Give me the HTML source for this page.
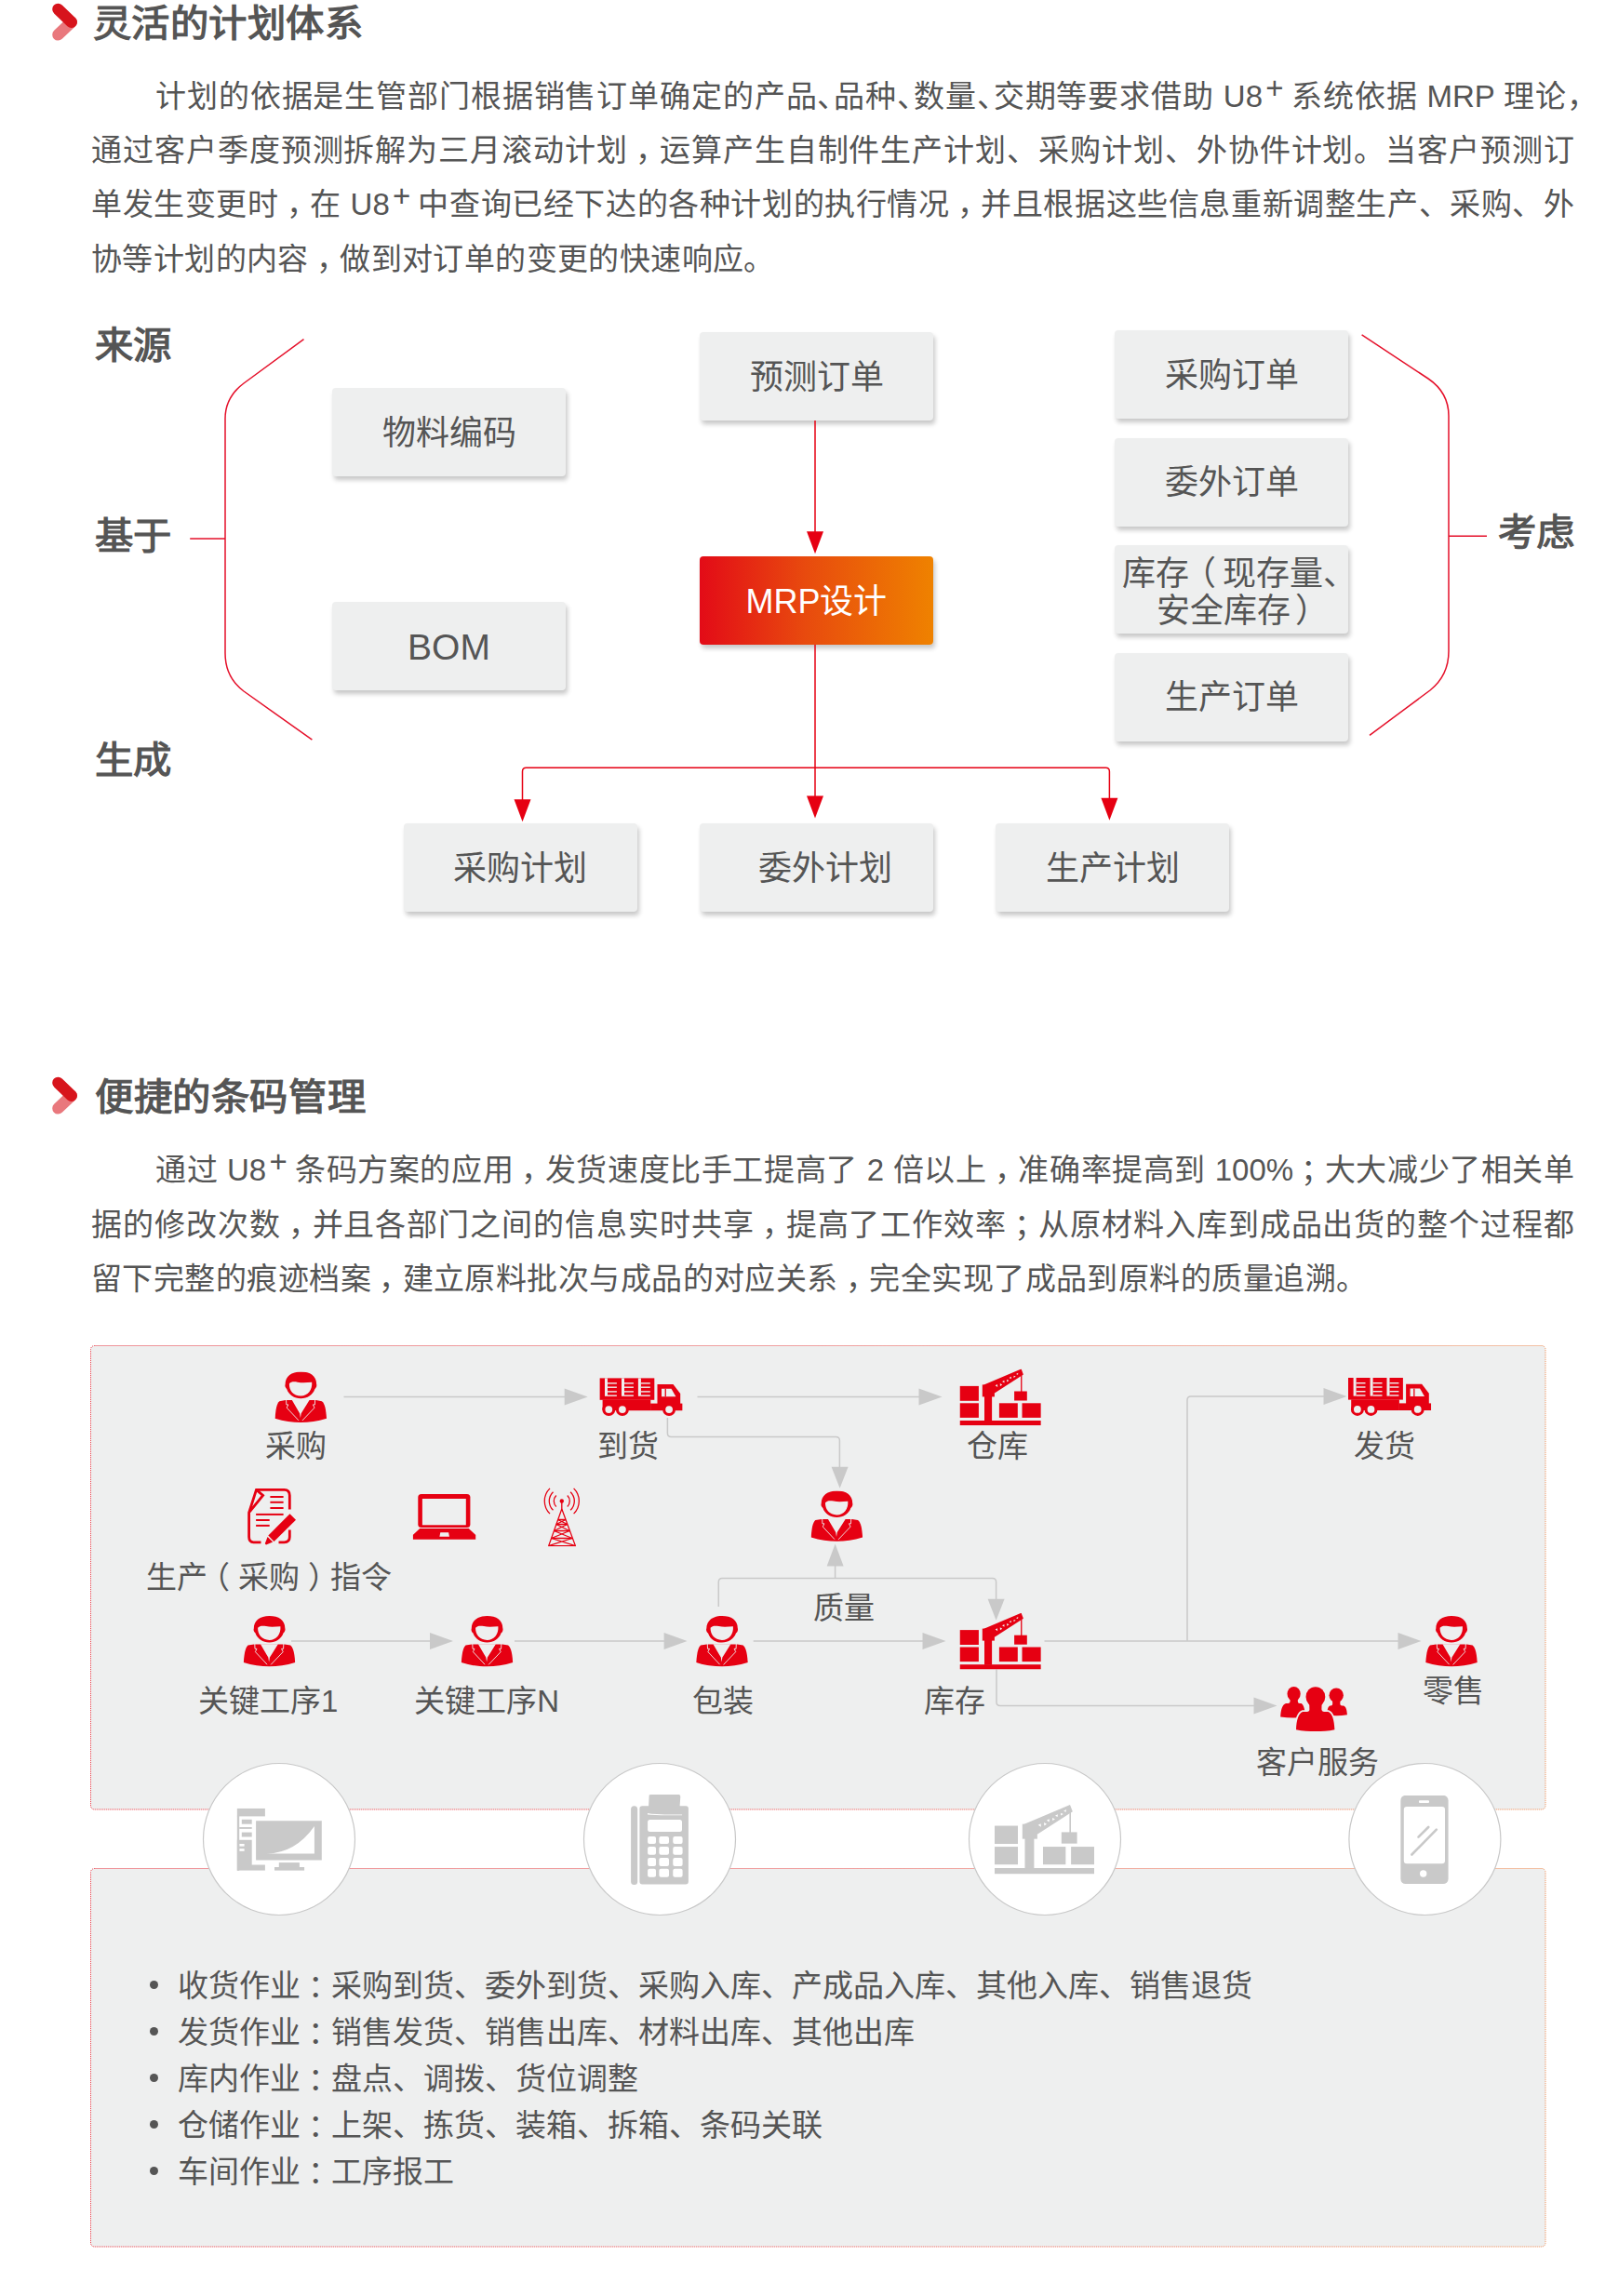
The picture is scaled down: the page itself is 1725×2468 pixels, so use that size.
<!DOCTYPE html>
<html lang="zh-CN"><head><meta charset="utf-8"><title>U8+</title>
<style>
html,body{margin:0;padding:0;background:#fff}
body{width:1725px;height:2468px;position:relative;overflow:hidden;font-family:"Liberation Sans",sans-serif;color:#555}
.t{position:absolute;white-space:nowrap;line-height:1;text-align:center}
.pl{position:absolute;left:98px;width:1594px;font-size:33px;line-height:1;white-space:nowrap;text-align:justify;text-align-last:justify}
sup{font-size:1em;vertical-align:0;position:relative;top:-0.27em;line-height:0;margin-left:0.1em;margin-right:-0.05em}
.box{position:absolute;width:251px;height:95px;background:#eeefef;border-radius:4px;box-shadow:2px 4px 5px rgba(0,0,0,0.22);display:flex;align-items:center;justify-content:center;font-size:36px;line-height:1;color:#555;white-space:nowrap}
.box span{position:relative;top:1px}
.halt{font-feature-settings:"halt"}
.pc{position:relative;left:0.25em}
.pl2{position:relative;left:-0.27em}
.pr2{position:relative;left:0.27em}
svg{position:absolute;left:0;top:0;overflow:visible}
</style></head><body>
<div id="pg" style="position:absolute;left:0;top:0;width:1725px;height:2468px;opacity:0.999">
<svg width="30" height="44" style="left:54px;top:2px" viewBox="54 2 30 44">
<line x1="62.45" y1="37.35" x2="76.75" y2="23.7" stroke="#e9787d" stroke-width="12.5" stroke-linecap="round"/>
<line x1="62.45" y1="9.95" x2="76.75" y2="23.7" stroke="#d7141c" stroke-width="12.5" stroke-linecap="round"/>
</svg>
<div class="t" style="left:99.5px;top:6.1px;text-align:left;font-size:41.4px;font-weight:bold;transform:scaleY(0.95);transform-origin:0 47%;color:#555;letter-spacing:0.6px;">灵活的计划体系</div>
<div class="pl" style="top:87.0px;width:1603px;"><span style="padding-left:69px"></span>计划的依据是生管部门根据销售订单确定的产品<span class="halt">、</span>品种<span class="halt">、</span>数量<span class="halt">、</span>交期等要求借助 U8<sup>+</sup> 系统依据 MRP 理论<span class="halt">，</span></div>
<div class="pl" style="top:145.0px;">通过客户季度预测拆解为三月滚动计划<span class="pc">，</span>运算产生自制件生产计划、采购计划、外协件计划。当客户预测订</div>
<div class="pl" style="top:203.2px;">单发生变更时<span class="pc">，</span>在 U8<sup>+</sup> 中查询已经下达的各种计划的执行情况<span class="pc">，</span>并且根据这些信息重新调整生产、采购、外</div>
<div class="pl" style="top:262.0px;text-align-last:left;letter-spacing:0.4px;">协等计划的内容<span class="pc">，</span>做到对订单的变更的快速响应。</div>
<div class="box" style="left:357px;top:417px;"><span>物料编码</span></div>
<div class="box" style="left:357px;top:647px;"><span><span style="font-size:39px;top:0">BOM</span></span></div>
<div class="box" style="left:752px;top:357px;"><span>预测订单</span></div>
<div class="box" style="left:1198px;top:355px;"><span>采购订单</span></div>
<div class="box" style="left:1198px;top:470.5px;"><span>委外订单</span></div>
<div class="box" style="left:1198px;top:701.5px;"><span>生产订单</span></div>
<div class="box" style="left:433.5px;top:885px;"><span>采购计划</span></div>
<div class="box" style="left:752px;top:885px;padding-left:18px;box-sizing:border-box;"><span>委外计划</span></div>
<div class="box" style="left:1070px;top:885px;"><span>生产计划</span></div>
<div class="box" style="left:1198px;top:586px"></div>
<div class="t" style="left:1206.0px;top:599.0px;text-align:left;font-size:36px;color:#555;">库存<span style="position:relative;left:-7px">（</span>现存量、</div>
<div class="t" style="left:1243.0px;top:639.0px;text-align:left;font-size:36px;color:#555;">安全库存<span style="position:relative;left:5px">）</span></div>
<div class="box" style="left:752px;top:598px;background:linear-gradient(90deg,#e30b17 0%,#e84a0e 45%,#ef8200 100%);color:#fff"><span>MRP设计</span></div>
<div class="t" style="left:102.0px;top:352.3px;text-align:left;font-size:41.4px;font-weight:bold;transform:scaleY(0.95);transform-origin:0 47%;color:#555;">来源</div>
<div class="t" style="left:102.0px;top:557.1px;text-align:left;font-size:41.4px;font-weight:bold;transform:scaleY(0.95);transform-origin:0 47%;color:#555;">基于</div>
<div class="t" style="left:102.0px;top:797.5px;text-align:left;font-size:41.4px;font-weight:bold;transform:scaleY(0.95);transform-origin:0 47%;color:#555;">生成</div>
<div class="t" style="left:1610.0px;top:552.7px;text-align:left;font-size:41.4px;font-weight:bold;transform:scaleY(0.95);transform-origin:0 47%;color:#555;">考虑</div>
<svg width="1725" height="1000" viewBox="0 0 1725 1000"><g fill="none" stroke="#e5102a" stroke-width="1.5"><path d="M326.5,364.6 L262,412 Q242,427 242,450 L242,702 Q242,728 262,743 L335.4,795.2"/><path d="M204.2,579 H242"/><path d="M1463.6,359.9 L1535,407 Q1557,422 1557,447 L1557,700 Q1557,726 1537,742 L1472,790.4"/><path d="M1557,576.2 H1598"/></g><g fill="none" stroke="#e60012" stroke-width="1.5"><path d="M876,452 V575"/><path d="M876,693 V860"/><path d="M561.5,862 V829.2 Q561.5,825.2 565.5,825.2 H1188.4 Q1192.4,825.2 1192.4,829.2 V860"/></g><path d="M867.0,571.3 L885.0,571.3 L876,595.3 Z" fill="#e60012"/><path d="M867.0,855.4 L885.0,855.4 L876,879.4 Z" fill="#e60012"/><path d="M552.5,859.2 L570.5,859.2 L561.5,883.2 Z" fill="#e60012"/><path d="M1183.4,857.7 L1201.4,857.7 L1192.4,881.7 Z" fill="#e60012"/></svg>
<svg width="30" height="44" style="left:54px;top:1156.3px" viewBox="54 1156.3 30 44">
<line x1="62.45" y1="1191.6499999999999" x2="76.75" y2="1178.0" stroke="#e9787d" stroke-width="12.5" stroke-linecap="round"/>
<line x1="62.45" y1="1164.25" x2="76.75" y2="1178.0" stroke="#d7141c" stroke-width="12.5" stroke-linecap="round"/>
</svg>
<div class="t" style="left:102.0px;top:1160.4px;text-align:left;font-size:41.4px;font-weight:bold;transform:scaleY(0.95);transform-origin:0 47%;color:#555;letter-spacing:0.6px;">便捷的条码管理</div>
<div class="pl" style="top:1240.9px;"><span style="padding-left:69px"></span>通过 U8<sup>+</sup> 条码方案的应用<span class="pc">，</span>发货速度比手工提高了 2 倍以上<span class="pc">，</span>准确率提高到 100%<span class="pc">；</span>大大减少了相关单</div>
<div class="pl" style="top:1299.6px;">据的修改次数<span class="pc">，</span>并且各部门之间的信息实时共享<span class="pc">，</span>提高了工作效率<span class="pc">；</span>从原材料入库到成品出货的整个过程都</div>
<div class="pl" style="top:1358.3px;text-align-last:left;letter-spacing:0.45px;">留下完整的痕迹档案<span class="pc">，</span>建立原料批次与成品的对应关系<span class="pc">，</span>完全实现了成品到原料的质量追溯。</div>
<svg width="1725" height="2468" viewBox="0 0 1725 2468"><defs><linearGradient id="bg1" x1="0" x2="1" y1="0" y2="0"><stop offset="0" stop-color="#e8303c"/><stop offset="0.5" stop-color="#ea4a4a"/><stop offset="1" stop-color="#f08a50"/></linearGradient></defs><rect x="97.5" y="1446.5" width="1563.5" height="498.5" rx="4" fill="#eeefef" stroke="url(#bg1)" stroke-width="1" stroke-dasharray="1 1"/><rect x="97.5" y="2008.5" width="1563.5" height="406.5" rx="4" fill="#eeefef" stroke="url(#bg1)" stroke-width="1" stroke-dasharray="1 1"/><circle cx="300" cy="1977" r="81.5" fill="#fff" stroke="#c8c8c8" stroke-width="1.2"/><circle cx="709" cy="1977" r="81.5" fill="#fff" stroke="#c8c8c8" stroke-width="1.2"/><circle cx="1123" cy="1977" r="81.5" fill="#fff" stroke="#c8c8c8" stroke-width="1.2"/><circle cx="1531.4" cy="1977" r="81.5" fill="#fff" stroke="#c8c8c8" stroke-width="1.2"/></svg>
<svg width="1725" height="2468" viewBox="0 0 1725 2468"><defs>
<symbol id="person" viewBox="0 0 56 55">
<path fill="#e60012" d="M11.3,13.5 C11.3,5 18,0 28,0 C38,0 44.8,4.5 44.8,13 C45.4,14.8 44.9,17 43,18.6 C41,24.6 35,28.6 28,28.6 C21,28.6 15,24.6 13,18.6 C11.2,17 10.7,15 11.3,13.5 Z"/>
<path fill="#eeefef" d="M15.6,12.8 C17.5,10.3 21,10.4 24.5,11.1 C29,12 34.5,11.6 39.9,11.2 C40.6,19.6 35.6,25.9 28,25.9 C20,25.9 15.3,19.8 15.6,12.8 Z"/>
<path fill="#e60012" d="M5,31.6 L11.6,30.4 L44.4,30.4 L50.6,31.6 C53.8,34 55,40 55.7,50.1 C46,53.3 37,54.3 28,54.3 C19,54.3 10,53.3 0.3,50.1 C1,40 2.2,34 5,31.6 Z"/>
<path fill="#eeefef" d="M18.4,30.2 L37.4,30.2 L28.4,44.6 L27.6,49.6 L26.8,44.6 Z"/>
<g fill="none" stroke="#eeefef" stroke-width="0.9">
<path d="M12.3,30 L12.5,35.3 L14.5,35.3 L12.9,38.6 L25.6,52.2"/>
<path d="M43.3,30 L43.1,35.3 L41.1,35.3 L42.7,38.6 L29.6,52.4"/>
</g>
</symbol>
<symbol id="truck" viewBox="0 0 89.2 41">
<g fill="#e60012">
<rect x="0" y="0" width="58.9" height="23.6"/>
<rect x="3.2" y="23.4" width="51.7" height="11.6"/>
<rect x="54.7" y="27.4" width="34.5" height="7.6"/>
<path d="M62.1,6.7 L79.1,6.7 L86.8,16.8 L86.8,28 L62.1,28 Z"/>
<circle cx="9.9" cy="33.9" r="7"/><circle cx="24.5" cy="33.9" r="7"/><circle cx="74.7" cy="33.9" r="7"/>
</g>
<g fill="#eeefef">
<rect x="5.6" y="0" width="3" height="19.6"/><rect x="23.6" y="0" width="3" height="19.6"/><rect x="41.5" y="0" width="3" height="19.6"/>
<rect x="8.6" y="5" width="9.9" height="1.4"/><rect x="8.6" y="9.3" width="9.9" height="1.4"/><rect x="8.6" y="14" width="9.9" height="1.4"/><rect x="8.6" y="18.3" width="9.9" height="1.4"/>
<rect x="26.6" y="5" width="9.9" height="1.4"/><rect x="26.6" y="9.3" width="9.9" height="1.4"/><rect x="26.6" y="14" width="9.9" height="1.4"/><rect x="26.6" y="18.3" width="9.9" height="1.4"/>
<rect x="44.5" y="5" width="9.9" height="1.4"/><rect x="44.5" y="9.3" width="9.9" height="1.4"/><rect x="44.5" y="14" width="9.9" height="1.4"/><rect x="44.5" y="18.3" width="9.9" height="1.4"/>
<path d="M66.6,11.6 L77.1,11.6 L82,20.1 L66.6,20.1 Z"/>
<circle cx="9.9" cy="33.9" r="3.9"/><circle cx="24.5" cy="33.9" r="3.9"/><circle cx="74.7" cy="33.9" r="3.9"/>
</g>
<rect x="70.2" y="11.6" width="1.3" height="8.5" fill="#e60012"/>
</symbol>
<symbol id="crane" viewBox="0 0 87.3 60.8">
<rect x="0" y="55.5" width="87.3" height="5.3"/>
<rect x="0" y="18.4" width="20.4" height="15.9"/>
<rect x="0" y="36.8" width="20.4" height="15.6"/>
<rect x="26.5" y="29" width="8.1" height="27"/>
<rect x="24.3" y="16.9" width="13.1" height="13"/>
<path d="M26,17 L66.1,0 L68.4,6 L37.4,26 Z"/>
<rect x="65.6" y="5" width="1.3" height="19.5"/>
<rect x="58.6" y="24" width="13.7" height="10"/>
<rect x="42.4" y="36.8" width="19.9" height="15.6"/>
<rect x="67" y="36.8" width="20.3" height="15.6"/>
<g style="fill:var(--hole,#eeefef)" class="lat"><path d="M38.14,17.72 L40.46,16.47 L40.69,19.48 Z"/><path d="M43.47,18.43 L45.70,17.02 L43.29,15.50 Z"/><path d="M45.59,13.62 L47.91,12.37 L47.96,15.07 Z"/><path d="M50.71,13.95 L52.94,12.55 L50.71,11.34 Z"/><path d="M53.04,9.53 L55.37,8.28 L55.23,10.65 Z"/><path d="M57.94,9.48 L60.17,8.07 L58.12,7.18 Z"/><path d="M60.50,5.43 L62.82,4.18 L62.50,6.24 Z"/></g>
</symbol>
<symbol id="group" viewBox="0 0 72 49">
<g fill="#e60012">
<ellipse cx="14.6" cy="8.7" rx="7.1" ry="7.8"/>
<path d="M10.4,12 L10.6,16.8 Q10.6,19 8.2,19 L6,19 C2,20.3 0.6,26 0.2,33.4 C9,34.9 18,34.9 27,33.6 C26.7,26 25.2,20.3 22.6,19 L20.8,19 Q18.8,19 18.8,16.8 L19,12 Z"/>
<ellipse cx="60.2" cy="10.2" rx="7.7" ry="7.8"/>
<path d="M56,14 L56.2,19.6 Q56.2,21.6 54.2,21.6 L53.4,21.6 C51.2,22.6 50.4,26 50.1,31.5 C57,32.6 64.5,32.6 71.9,31.3 C71.6,26 70.6,22.6 68,21.6 L66.3,21.6 Q64.3,21.6 64.3,19.6 L64.5,14 Z"/>
</g>
<g fill="#eeefef" stroke="#eeefef" stroke-width="3.6" stroke-linejoin="round">
<ellipse cx="37.9" cy="12" rx="10.4" ry="10.8"/>
<path d="M31.2,18 L31.4,25.6 Q31.4,28 28.8,28 L24.2,28 C19.6,29.6 17.4,37 17,47.2 C24,48.7 31,49 37.9,49 C44.8,49 51.7,48.7 58.4,47.2 C58,37 55.9,29.6 51.4,28 L46.9,28 Q44.4,28 44.4,25.6 L44.6,18 Z"/>
</g>
<g fill="#e60012">
<ellipse cx="37.9" cy="12" rx="10.4" ry="10.8"/>
<path d="M31.2,18 L31.4,25.6 Q31.4,28 28.8,28 L24.2,28 C19.6,29.6 17.4,37 17,47.2 C24,48.7 31,49 37.9,49 C44.8,49 51.7,48.7 58.4,47.2 C58,37 55.9,29.6 51.4,28 L46.9,28 Q44.4,28 44.4,25.6 L44.6,18 Z"/>
</g>
</symbol>
<symbol id="doc" viewBox="0 0 60 66">
<g fill="none" stroke="#e60012" stroke-width="2.8">
<path d="M20.5,62.8 L12.5,62.8 Q7.6,62.8 7.6,57 L7.6,31 L15.5,6.4 L45.5,6.4 Q51.3,6.4 51.3,12.5 L51.3,27.5"/>
<path d="M51.3,49.5 L51.3,57 Q51.3,62.8 45.5,62.8 L39.5,62.8"/>
<path d="M15.8,6.6 L22.6,12.4 L8.4,29.8"/>
</g>
<g fill="#e60012">
<rect x="30.4" y="13" width="14.2" height="2"/><rect x="30.4" y="18.8" width="14.2" height="2"/><rect x="30.4" y="25" width="14.2" height="2"/>
<rect x="15.1" y="31.9" width="29.5" height="2"/><rect x="15.1" y="38" width="14.6" height="2"/><rect x="15.1" y="43.9" width="14.6" height="2"/>
<path d="M51.5,32.3 L58,38.8 L34.5,61.9 L28.3,55.4 Z"/>
<path d="M27.6,57 L33.2,62.6 L26,65.6 L24.8,64.3 Z"/>
</g>
</symbol>
<symbol id="laptop" viewBox="0 0 68 49">
<rect x="5.6" y="0" width="56.1" height="36.1" rx="3.5" fill="#e60012"/>
<rect x="10.2" y="5" width="46.9" height="28.3" fill="#eeefef"/>
<path d="M7.5,37 L60,37 L67.6,44 L67.6,48.8 L0,48.8 L0,44 Z" fill="#e60012"/>
<path d="M29.6,41.3 L38.4,41.3 L39.3,45.7 L28.7,45.7 Z" fill="#eeefef"/>
</symbol>
<symbol id="tower" viewBox="0 0 44 64">
<g fill="none" stroke="#e60012" stroke-width="1.3">
<path d="M21.8,15 L21.8,23.8"/>
<path d="M21.8,23.5 L7.6,63.4 M21.8,23.5 L36.5,63.4 M7.2,63.2 L37,63.2"/>
<path d="M17.6,35 L26,35 M15.8,40 L27.8,40 M13.4,47 L30.2,47 M10.6,55 L33,55"/>
<path d="M17.6,35 L27.8,40 M26,35 L15.8,40 M15.8,40 L30.2,47 M27.8,40 L13.4,47 M13.4,47 L33,55 M30.2,47 L10.6,55 M10.6,55 L36.5,63.2 M33,55 L7.6,63.2"/>
<path d="M15.8,9 A8.5,8.5 0 0 0 15.8,21 M27.8,9 A8.5,8.5 0 0 1 27.8,21"/>
<path d="M12.5,5.2 A13.5,13.5 0 0 0 12.5,24.8 M31.1,5.2 A13.5,13.5 0 0 1 31.1,24.8"/>
<path d="M9,1.4 A19,19 0 0 0 9,28.6 M34.6,1.4 A19,19 0 0 1 34.6,28.6"/>
</g>
<circle cx="21.8" cy="15" r="2.2" fill="#e60012"/>
</symbol>
<symbol id="pc" viewBox="0 0 92 67">
<g fill="#c9c9c9">
<rect x="0" y="0" width="30.3" height="8.6"/>
<rect x="0" y="8" width="2.6" height="60"/>
<rect x="5.2" y="12" width="10.9" height="4.9"/>
<rect x="2.6" y="20.2" width="13.5" height="1.9"/>
<rect x="5.2" y="25.8" width="10.9" height="4.9"/>
<path d="M0,34 L16.1,34 L16.1,60.6 L30.3,60.6 L30.3,67 L0,67 Z"/>
<path d="M20.5,13.5 L91.2,13.5 L91.2,55.7 L20.5,55.7 Z M32,48.6 Q63,48 83.3,19.1 L83.3,48.6 Z" fill-rule="evenodd"/>
<rect x="45.2" y="58.3" width="22.1" height="4.9"/>
<rect x="40.4" y="63.2" width="32.1" height="3.8"/>
</g>
<g fill="#fff"><rect x="2.8" y="38.2" width="5.2" height="2.6"/><rect x="2.8" y="43.4" width="5.2" height="2.6"/></g>
</symbol>
<symbol id="pos" viewBox="0 0 62 97">
<g fill="#c9c9c9">
<rect x="0" y="12.2" width="7.1" height="84.7" rx="3.5"/>
<path d="M19.6,0.5 Q19.8,0 22,0 L51.5,0 Q53.5,0 53.2,2.5 L52.5,12.2 L59,12.2 Q61.8,12.2 61.8,15 L61.8,93.6 Q61.8,96.6 58.8,96.6 L12.3,96.6 Q9.3,96.6 9.3,93.6 L9.3,15 Q9.3,12.2 12.3,12.2 L19,12.2 Z"/>
</g>
<g fill="#fff">
<path d="M17.9,20 Q26,21.8 55,21.4 L55,22.2 Q26,22.6 17.9,21.6 Z"/>
<rect x="18" y="27" width="36.9" height="12.9" rx="2.5"/>
<rect x="18" y="44.9" width="8.9" height="8.1" rx="2"/><rect x="30.3" y="44.9" width="10.6" height="8.1" rx="2"/><rect x="45.2" y="44.9" width="10.3" height="8.1" rx="2"/>
<rect x="18" y="56.1" width="8.9" height="8.7" rx="2"/><rect x="30.3" y="56.1" width="10.6" height="8.7" rx="2"/><rect x="45.2" y="56.1" width="10.3" height="8.7" rx="2"/>
<rect x="18" y="67.9" width="8.9" height="9.1" rx="2"/><rect x="30.3" y="67.9" width="10.6" height="9.1" rx="2"/><rect x="45.2" y="67.9" width="10.3" height="9.1" rx="2"/>
<rect x="18" y="79.8" width="8.9" height="9" rx="2"/><rect x="30.3" y="79.8" width="10.6" height="9" rx="2"/><rect x="45.2" y="79.8" width="10.3" height="9" rx="2"/>
</g>
</symbol>
<symbol id="phone" viewBox="0 0 52 96">
<rect x="0" y="0" width="51.4" height="95.1" rx="5.5" fill="#c9c9c9"/>
<rect x="3.6" y="12" width="44.2" height="61.4" rx="3.2" fill="#fff"/>
<rect x="19.8" y="5.3" width="11" height="2.8" rx="1" fill="#fff"/>
<circle cx="24.5" cy="84.1" r="3.7" fill="#fff"/>
<g stroke="#c9c9c9" stroke-width="2.6" stroke-linecap="round"><path d="M19.3,44.8 L30,34.1"/><path d="M12.2,63.6 L38.6,36.7"/></g>
</symbol>
</defs><g fill="none" stroke="#c9c9c9" stroke-width="1.5"><path d="M369.5,1501.5 H608"/><path d="M749.5,1501.5 H990"/><path d="M717.4,1524 V1540.4 Q717.4,1544.4 721.4,1544.4 H898.4 Q902.4,1544.4 902.4,1548.4 V1578"/><path d="M772.3,1727 V1700.4 Q772.3,1696.4 776.3,1696.4 H1066.6 Q1070.6,1696.4 1070.6,1700.4 V1719"/><path d="M897.6,1696.4 V1682"/><path d="M313,1764 H463"/><path d="M553,1764 H715"/><path d="M809.7,1764 H993"/><path d="M1122.5,1764 H1503"/><path d="M1276,1764 V1505 Q1276,1501 1280,1501 H1425"/><path d="M1071,1794.5 V1829.5 Q1071,1833.5 1075,1833.5 H1350"/></g><path d="M606.7,1492.5 L631.7,1501.5 L606.7,1510.5 Z" fill="#c9c9c9"/><path d="M987.5,1492.5 L1012.5,1501.5 L987.5,1510.5 Z" fill="#c9c9c9"/><path d="M893.6,1576.8 L911.6,1576.8 L902.6,1599.8 Z" fill="#c9c9c9"/><path d="M888.6,1683.6 L906.6,1683.6 L897.6,1659.6 Z" fill="#c9c9c9"/><path d="M1061.6,1718.8 L1079.6,1718.8 L1070.6,1741.8 Z" fill="#c9c9c9"/><path d="M462,1755.0 L487,1764 L462,1773.0 Z" fill="#c9c9c9"/><path d="M713.6,1755.0 L738.6,1764 L713.6,1773.0 Z" fill="#c9c9c9"/><path d="M991.5,1755.0 L1016.5,1764 L991.5,1773.0 Z" fill="#c9c9c9"/><path d="M1502.5,1755.0 L1527.5,1764 L1502.5,1773.0 Z" fill="#c9c9c9"/><path d="M1422.5,1492.0 L1447.5,1501 L1422.5,1510.0 Z" fill="#c9c9c9"/><path d="M1347.5,1824.5 L1372.5,1833.5 L1347.5,1842.5 Z" fill="#c9c9c9"/><use href="#person" x="295.3" y="1474.6" width="56" height="55"/><use href="#person" x="261.5" y="1737" width="56" height="55"/><use href="#person" x="495.5" y="1737" width="56" height="55"/><use href="#person" x="748" y="1737" width="56" height="55"/><use href="#person" x="871.4" y="1602.5" width="56" height="55"/><use href="#person" x="1532" y="1737" width="56" height="55"/><use href="#truck" x="644.4" y="1481.2" width="89.2" height="41"/><use href="#truck" x="1449" y="1481" width="89.2" height="41"/><use href="#crane" x="1031.5" y="1471.5" width="87.3" height="60.8" fill="#e60012"/><use href="#crane" x="1031.5" y="1733.7" width="87.3" height="60.8" fill="#e60012"/><use href="#group" x="1376" y="1812" width="72" height="49"/><use href="#doc" x="260" y="1595" width="60" height="66"/><use href="#laptop" x="443.7" y="1606" width="68" height="49"/><use href="#tower" x="582" y="1598.5" width="44" height="64"/><use href="#pc" x="254.6" y="1943.8" width="92" height="67"/><use href="#pos" x="678.1" y="1929" width="62" height="97"/><use href="#crane" x="1069" y="1940" width="107" height="74.5" fill="#c9c9c9" style="--hole:#fff"/><use href="#phone" x="1505.2" y="1929.9" width="52" height="96"/></svg>
<div class="t" style="left:18.4px;top:1538.1px;width:600px;font-size:33px;color:#555;">采购</div>
<div class="t" style="left:374.5px;top:1537.8px;width:600px;font-size:33px;color:#555;">到货</div>
<div class="t" style="left:772.0px;top:1538.1px;width:600px;font-size:33px;color:#555;">仓库</div>
<div class="t" style="left:1188.0px;top:1538.1px;width:600px;font-size:33px;color:#555;">发货</div>
<div class="t" style="left:-11.2px;top:1679.1px;width:600px;font-size:33px;color:#555;">生产<span class="pl2">（</span>采购<span class="pr2">）</span>指令</div>
<div class="t" style="left:606.9px;top:1711.5px;width:600px;font-size:33px;color:#555;">质量</div>
<div class="t" style="left:-11.8px;top:1811.6px;width:600px;font-size:33px;color:#555;">关键工序1</div>
<div class="t" style="left:223.2px;top:1811.6px;width:600px;font-size:33px;color:#555;">关键工序N</div>
<div class="t" style="left:476.5px;top:1811.6px;width:600px;font-size:33px;color:#555;">包装</div>
<div class="t" style="left:725.5px;top:1811.6px;width:600px;font-size:33px;color:#555;">库存</div>
<div class="t" style="left:1262.0px;top:1800.6px;width:600px;font-size:33px;color:#555;">零售</div>
<div class="t" style="left:1115.8px;top:1878.1px;width:600px;font-size:33px;color:#555;">客户服务</div>
<div class="t" style="left:160.6px;top:2128.9px;width:9.3px;height:9.3px;border-radius:50%;background:#555"></div>
<div class="t" style="left:191.0px;top:2118.2px;text-align:left;font-size:33px;color:#555;">收货作业<span class="pc">：</span>采购到货、委外到货、采购入库、产成品入库、其他入库、销售退货</div>
<div class="t" style="left:160.6px;top:2178.9px;width:9.3px;height:9.3px;border-radius:50%;background:#555"></div>
<div class="t" style="left:191.0px;top:2168.2px;text-align:left;font-size:33px;color:#555;">发货作业<span class="pc">：</span>销售发货、销售出库、材料出库、其他出库</div>
<div class="t" style="left:160.6px;top:2228.9px;width:9.3px;height:9.3px;border-radius:50%;background:#555"></div>
<div class="t" style="left:191.0px;top:2218.2px;text-align:left;font-size:33px;color:#555;">库内作业<span class="pc">：</span>盘点、调拨、货位调整</div>
<div class="t" style="left:160.6px;top:2278.9px;width:9.3px;height:9.3px;border-radius:50%;background:#555"></div>
<div class="t" style="left:191.0px;top:2268.2px;text-align:left;font-size:33px;color:#555;">仓储作业<span class="pc">：</span>上架、拣货、装箱、拆箱、条码关联</div>
<div class="t" style="left:160.6px;top:2328.9px;width:9.3px;height:9.3px;border-radius:50%;background:#555"></div>
<div class="t" style="left:191.0px;top:2318.2px;text-align:left;font-size:33px;color:#555;">车间作业<span class="pc">：</span>工序报工</div>

</div></body></html>
